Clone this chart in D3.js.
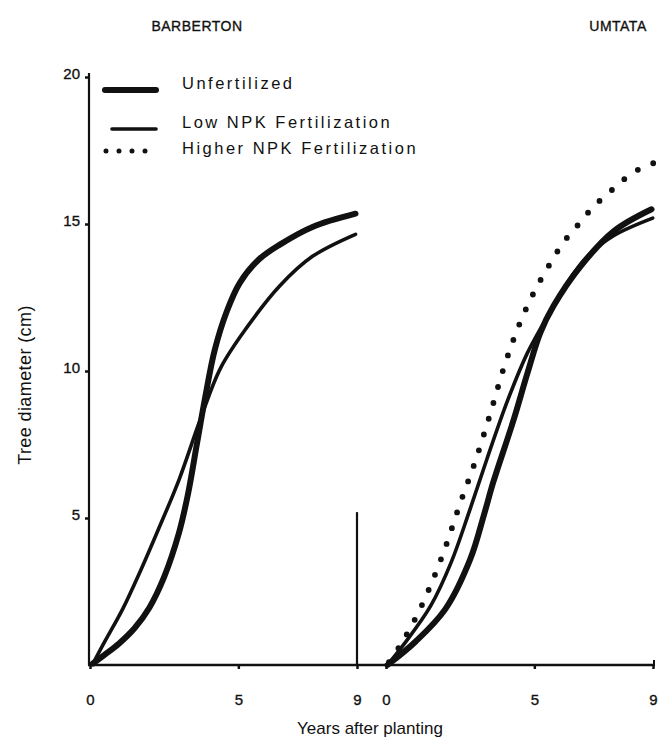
<!doctype html>
<html>
<head>
<meta charset="utf-8">
<script src="https://d3js.org/d3.v7.min.js"></script>
<style>
  body { margin: 0; background: #fff; }
  svg text { font-family: "Liberation Sans", Arial, sans-serif; fill: #111; }
  svg text.heavy { stroke: #111; stroke-width: 0.35px; }
</style>
</head>
<body>
<script>
// site names and tick values
var sites = ["BARBERTON", "UMTATA"];
var xTicks = [0, 5, 9];
var yTicks = [5, 10, 15, 20];
var legendLabels = ["Unfertilized", "Low NPK Fertilization", "Higher NPK Fertilization"];

// [years after planting, diameter cm]
var barbertonUnfert = [[0.1,0.05],[0.5,0.35],[1.0,0.75],[1.5,1.25],[2.0,1.95],[2.5,3.0],[3.0,4.5],[3.3,5.8],[3.6,7.5],[3.9,9.2],[4.2,10.7],[4.6,12.0],[5.05,13.0],[5.7,13.8],[6.4,14.3],[7.5,14.9],[8.95,15.35]];
var barbertonLow = [[0.1,0.05],[0.5,0.8],[1.1,1.9],[1.7,3.2],[2.3,4.6],[3.0,6.3],[3.7,8.3],[4.4,10.1],[5.3,11.5],[6.4,12.9],[7.5,13.9],[8.95,14.65]];
var umtataUnfert = [[0.05,0.0],[1.0,0.8],[2.0,1.9],[2.84,3.6],[3.3,5.1],[3.61,6.2],[4.29,8.3],[4.76,9.9],[5.2,11.3],[5.64,12.2],[6.55,13.55],[7.67,14.75],[8.95,15.5]];
var umtataLow = [[0.05,0.0],[0.6,0.7],[1.5,2.0],[2.2,3.5],[2.8,5.2],[3.4,7.0],[4.1,9.0],[4.76,10.6],[5.44,11.85],[6.11,13.0],[6.79,13.9],[7.67,14.6],[8.99,15.2]];
var umtataHigh = [[0.1,0.1],[0.5,0.7],[1.0,1.6],[1.5,2.7],[2.0,4.0],[2.5,5.5],[3.0,6.9],[3.5,8.5],[4.0,10.2],[4.5,11.6],[5.0,12.7],[5.5,13.6],[6.0,14.4],[6.5,15.0],[7.0,15.6],[7.5,16.05],[8.0,16.5],[8.5,16.85],[9.1,17.1]];

var width = 668, height = 751;

var svg = d3.select("body").append("svg")
    .attr("width", width)
    .attr("height", height);

var y = d3.scaleLinear().domain([0, 20]).range([665, 77]);
var xLeft = d3.scaleLinear().domain([0, 9]).range([90, 357]);
var xRight = d3.scaleLinear().domain([0, 9]).range([386, 653]);

// axes lines
svg.append("line")
    .attr("x1", 89).attr("x2", 89)
    .attr("y1", y(20) - 4).attr("y2", y(0))
    .attr("stroke", "#111").attr("stroke-width", 2.2);

svg.append("line")
    .attr("x1", 88).attr("x2", xRight(9) + 2)
    .attr("y1", y(0)).attr("y2", y(0))
    .attr("stroke", "#111").attr("stroke-width", 2.6);

// y ticks
var yAxis = d3.axisLeft(y).tickValues(yTicks).tickSize(4).tickPadding(5);
var gy = svg.append("g").attr("transform", "translate(89,0)").call(yAxis);
gy.select(".domain").remove();
gy.selectAll(".tick line").attr("stroke", "#111").attr("stroke-width", 2.5);
gy.selectAll(".tick text").attr("class", "heavy").style("font-size", "15px").attr("fill", "#111").attr("dy", "0.1em");

// x ticks for both panels
[xLeft, xRight].forEach(function(sc) {
  var ax = d3.axisBottom(sc).tickValues(xTicks).tickSize(4).tickPadding(25);
  var g = svg.append("g").attr("transform", "translate(0," + y(0) + ")").call(ax);
  g.select(".domain").remove();
  g.selectAll(".tick line").attr("stroke", "#111").attr("stroke-width", 2.5);
  g.selectAll(".tick text").attr("class", "heavy").style("font-size", "15px").attr("fill", "#111");
});

// the long tick at year 9 of the first site
svg.append("line")
    .attr("x1", xLeft(9)).attr("x2", xLeft(9))
    .attr("y1", y(0)).attr("y2", y(5.2))
    .attr("stroke", "#111").attr("stroke-width", 2.2);

// small upward tick at the right end
svg.append("line")
    .attr("x1", xRight(9) + 1).attr("x2", xRight(9) + 1)
    .attr("y1", y(0)).attr("y2", y(0) - 5)
    .attr("stroke", "#111").attr("stroke-width", 2);

// site titles
svg.selectAll(".site")
    .data(sites)
    .enter().append("text")
    .attr("class", "heavy")
    .attr("x", function(d, i) { return i === 0 ? 197 : 618; })
    .attr("y", 31)
    .attr("text-anchor", "middle")
    .style("font-size", "14px")
    .style("letter-spacing", "0.5px")
    .text(function(d) { return d; });

// axis titles
svg.append("text")
    .attr("transform", "translate(31,385) rotate(-90)")
    .attr("text-anchor", "middle")
    .style("font-size", "18px")
    .style("letter-spacing", "0.4px")
    .text("Tree diameter (cm)");

svg.append("text")
    .attr("x", 370).attr("y", 734)
    .attr("text-anchor", "middle")
    .style("font-size", "17px")
    .text("Years after planting");

// curves
function lineFor(sc) {
  return d3.line()
      .x(function(d) { return sc(d[0]); })
      .y(function(d) { return y(d[1]); })
      .curve(d3.curveCatmullRom.alpha(0.5));
}

var styles = {
  unfert: { w: 6, dash: null },
  low: { w: 3.6, dash: null },
  high: { w: 5.8, dash: "0,16.5" }
};

var series = [
  { data: barbertonUnfert, sc: xLeft, s: styles.unfert },
  { data: barbertonLow, sc: xLeft, s: styles.low },
  { data: umtataUnfert, sc: xRight, s: styles.unfert },
  { data: umtataLow, sc: xRight, s: styles.low },
  { data: umtataHigh, sc: xRight, s: styles.high }
];

series.forEach(function(sr) {
  svg.append("path")
      .attr("d", lineFor(sr.sc)(sr.data))
      .attr("fill", "none")
      .attr("stroke", "#111")
      .attr("stroke-width", sr.s.w)
      .attr("stroke-linecap", "round")
      .attr("stroke-dasharray", sr.s.dash);
});

// legend
var legend = [
  { label: legendLabels[0], s: styles.unfert, ly: 90, ty: 89, x1: 105, x2: 156 },
  { label: legendLabels[1], s: styles.low, ly: 129, ty: 128, x1: 112, x2: 156 },
  { label: legendLabels[2], s: { w: 5, dash: "0,13" }, ly: 151, ty: 154, x1: 106, x2: 150 }
];

legend.forEach(function(l) {
  svg.append("line")
      .attr("x1", l.x1).attr("x2", l.x2)
      .attr("y1", l.ly).attr("y2", l.ly)
      .attr("stroke", "#111")
      .attr("stroke-width", l.s.w)
      .attr("stroke-linecap", "round")
      .attr("stroke-dasharray", l.s.dash);
  svg.append("text")
      .attr("x", 182).attr("y", l.ty)
      .style("font-size", "16.5px")
      .style("letter-spacing", "2.5px")
      .text(l.label);
});
</script>
</body>
</html>
